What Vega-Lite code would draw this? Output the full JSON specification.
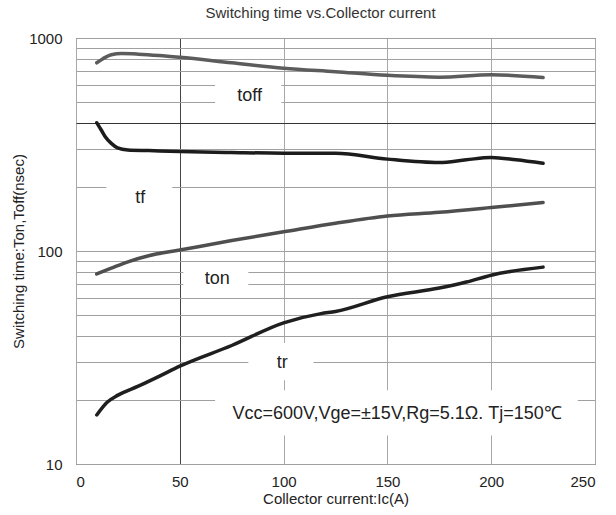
{
  "$schema": "https://vega.github.io/schema/vega-lite/v6.json",
  "width": 519,
  "height": 426,
  "autosize": "none",
  "padding": {"left": 76, "top": 38, "right": 21, "bottom": 51},
  "background": "white",
  "title": {
    "text": "Switching time vs.Collector current",
    "font": "Liberation Sans",
    "fontSize": 15,
    "fontWeight": "normal",
    "color": "#333333",
    "anchor": "middle",
    "dx": -15,
    "offset": 10
  },
  "config": {
    "view": {"stroke": "#444444", "strokeWidth": 1},
    "axis": {"labelFont": "Liberation Sans", "titleFont": "Liberation Sans", "labelColor": "#222222", "titleColor": "#222222", "titleFontWeight": "normal"}
  },
  "datasets": {
    "curves": [
      {"Ic": 10, "t": 765, "series": "toff"},
      {"Ic": 13, "t": 800, "series": "toff"},
      {"Ic": 17, "t": 835, "series": "toff"},
      {"Ic": 22, "t": 845, "series": "toff"},
      {"Ic": 30, "t": 840, "series": "toff"},
      {"Ic": 40, "t": 828, "series": "toff"},
      {"Ic": 50, "t": 812, "series": "toff"},
      {"Ic": 75, "t": 765, "series": "toff"},
      {"Ic": 100, "t": 722, "series": "toff"},
      {"Ic": 125, "t": 695, "series": "toff"},
      {"Ic": 150, "t": 668, "series": "toff"},
      {"Ic": 175, "t": 655, "series": "toff"},
      {"Ic": 200, "t": 672, "series": "toff"},
      {"Ic": 225, "t": 652, "series": "toff"},
      {"Ic": 10, "t": 400, "series": "tf"},
      {"Ic": 12, "t": 372, "series": "tf"},
      {"Ic": 14, "t": 345, "series": "tf"},
      {"Ic": 17, "t": 320, "series": "tf"},
      {"Ic": 20, "t": 305, "series": "tf"},
      {"Ic": 25, "t": 298, "series": "tf"},
      {"Ic": 35, "t": 296, "series": "tf"},
      {"Ic": 50, "t": 293, "series": "tf"},
      {"Ic": 75, "t": 290, "series": "tf"},
      {"Ic": 100, "t": 288, "series": "tf"},
      {"Ic": 125, "t": 288, "series": "tf"},
      {"Ic": 150, "t": 270, "series": "tf"},
      {"Ic": 175, "t": 260, "series": "tf"},
      {"Ic": 188, "t": 268, "series": "tf"},
      {"Ic": 200, "t": 275, "series": "tf"},
      {"Ic": 212, "t": 268, "series": "tf"},
      {"Ic": 225, "t": 258, "series": "tf"},
      {"Ic": 10, "t": 78, "series": "ton"},
      {"Ic": 17, "t": 83, "series": "ton"},
      {"Ic": 25, "t": 89, "series": "ton"},
      {"Ic": 35, "t": 95, "series": "ton"},
      {"Ic": 50, "t": 101, "series": "ton"},
      {"Ic": 75, "t": 112, "series": "ton"},
      {"Ic": 100, "t": 123, "series": "ton"},
      {"Ic": 125, "t": 135, "series": "ton"},
      {"Ic": 150, "t": 146, "series": "ton"},
      {"Ic": 175, "t": 152, "series": "ton"},
      {"Ic": 200, "t": 160, "series": "ton"},
      {"Ic": 225, "t": 169, "series": "ton"},
      {"Ic": 10, "t": 17, "series": "tr"},
      {"Ic": 15, "t": 19.5, "series": "tr"},
      {"Ic": 20, "t": 21, "series": "tr"},
      {"Ic": 30, "t": 23.2, "series": "tr"},
      {"Ic": 40, "t": 25.8, "series": "tr"},
      {"Ic": 50, "t": 28.8, "series": "tr"},
      {"Ic": 75, "t": 36, "series": "tr"},
      {"Ic": 100, "t": 46, "series": "tr"},
      {"Ic": 118, "t": 50.8, "series": "tr"},
      {"Ic": 125, "t": 52, "series": "tr"},
      {"Ic": 150, "t": 61, "series": "tr"},
      {"Ic": 175, "t": 67, "series": "tr"},
      {"Ic": 188, "t": 71.5, "series": "tr"},
      {"Ic": 200, "t": 77, "series": "tr"},
      {"Ic": 225, "t": 84, "series": "tr"}
    ],
    "gaps": [
      {"x1": 67, "x2": 99, "y1": 440, "y2": 660},
      {"x1": 14.6, "x2": 46.4, "y1": 165, "y2": 230},
      {"x1": 51.7, "x2": 83, "y1": 65, "y2": 86},
      {"x1": 83, "x2": 114.4, "y1": 24.7, "y2": 37},
      {"x1": 67, "x2": 241.7, "y1": 13.6, "y2": 22.2}
    ],
    "labels": [
      {"x": 83.6, "y": 532, "text": "toff"},
      {"x": 31, "y": 176.6, "text": "tf"},
      {"x": 68.1, "y": 73.6, "text": "ton"},
      {"x": 99.3, "y": 29.7, "text": "tr"},
      {"x": 154.7, "y": 17.2, "text": "Vcc=600V,Vge=±15V,Rg=5.1Ω. Tj=150℃"}
    ]
  },
  "layer": [
    {
      "data": {"name": "curves"},
      "mark": {"type": "line", "opacity": 0},
      "encoding": {
        "x": {
          "field": "Ic", "type": "quantitative",
          "scale": {"domain": [0, 250], "nice": false},
          "axis": {
            "values": [0, 50, 100, 150, 200, 250],
            "title": "Collector current:Ic(A)",
            "grid": true,
            "gridColor": {"condition": {"test": "datum.value == 50", "value": "#444444"}, "value": "#a8a8a8"},
            "ticks": false, "tickSize": 0, "domain": false,
            "labelFontSize": 15, "labelPadding": 10,
            "titleFontSize": 15, "titlePadding": 2
          }
        },
        "y": {
          "field": "t", "type": "quantitative",
          "scale": {"type": "log", "domain": [10, 1000], "nice": false},
          "axis": {
            "values": [10, 20, 30, 40, 50, 60, 70, 80, 90, 100, 200, 300, 400, 500, 600, 700, 800, 900, 1000],
            "format": "d",
            "labelExpr": "datum.value == 10 || datum.value == 100 || datum.value == 1000 ? datum.label : ''",
            "title": "Switching time:Ton,Toff(nsec)",
            "grid": true,
            "gridColor": {"condition": {"test": "datum.value == 400", "value": "#333333"}, "value": "#a0a0a0"},
            "ticks": false, "tickSize": 0, "domain": false,
            "labelFontSize": 15, "labelPadding": 14,
            "titleFontSize": 15, "titlePadding": 2
          }
        }
      }
    },
    {
      "data": {"name": "gaps"},
      "mark": {"type": "rect", "fill": "white", "stroke": null},
      "encoding": {
        "x": {"field": "x1", "type": "quantitative"},
        "x2": {"field": "x2"},
        "y": {"field": "y1", "type": "quantitative"},
        "y2": {"field": "y2"}
      }
    },
    {
      "data": {"name": "curves"},
      "mark": {"type": "line", "interpolate": "monotone", "strokeWidth": 3.5, "strokeCap": "round"},
      "encoding": {
        "x": {"field": "Ic", "type": "quantitative"},
        "y": {"field": "t", "type": "quantitative"},
        "detail": {"field": "series"},
        "color": {
          "field": "series", "type": "nominal",
          "scale": {"domain": ["toff", "tf", "ton", "tr"], "range": ["#5c5c5c", "#1c1c1c", "#4f4f4f", "#1f1f1f"]},
          "legend": null
        }
      }
    },
    {
      "data": {"name": "labels"},
      "mark": {"type": "text", "font": "Liberation Sans", "fontSize": 18, "color": "#222222", "align": "center", "baseline": "middle"},
      "encoding": {
        "x": {"field": "x", "type": "quantitative"},
        "y": {"field": "y", "type": "quantitative"},
        "text": {"field": "text"}
      }
    }
  ]
}
